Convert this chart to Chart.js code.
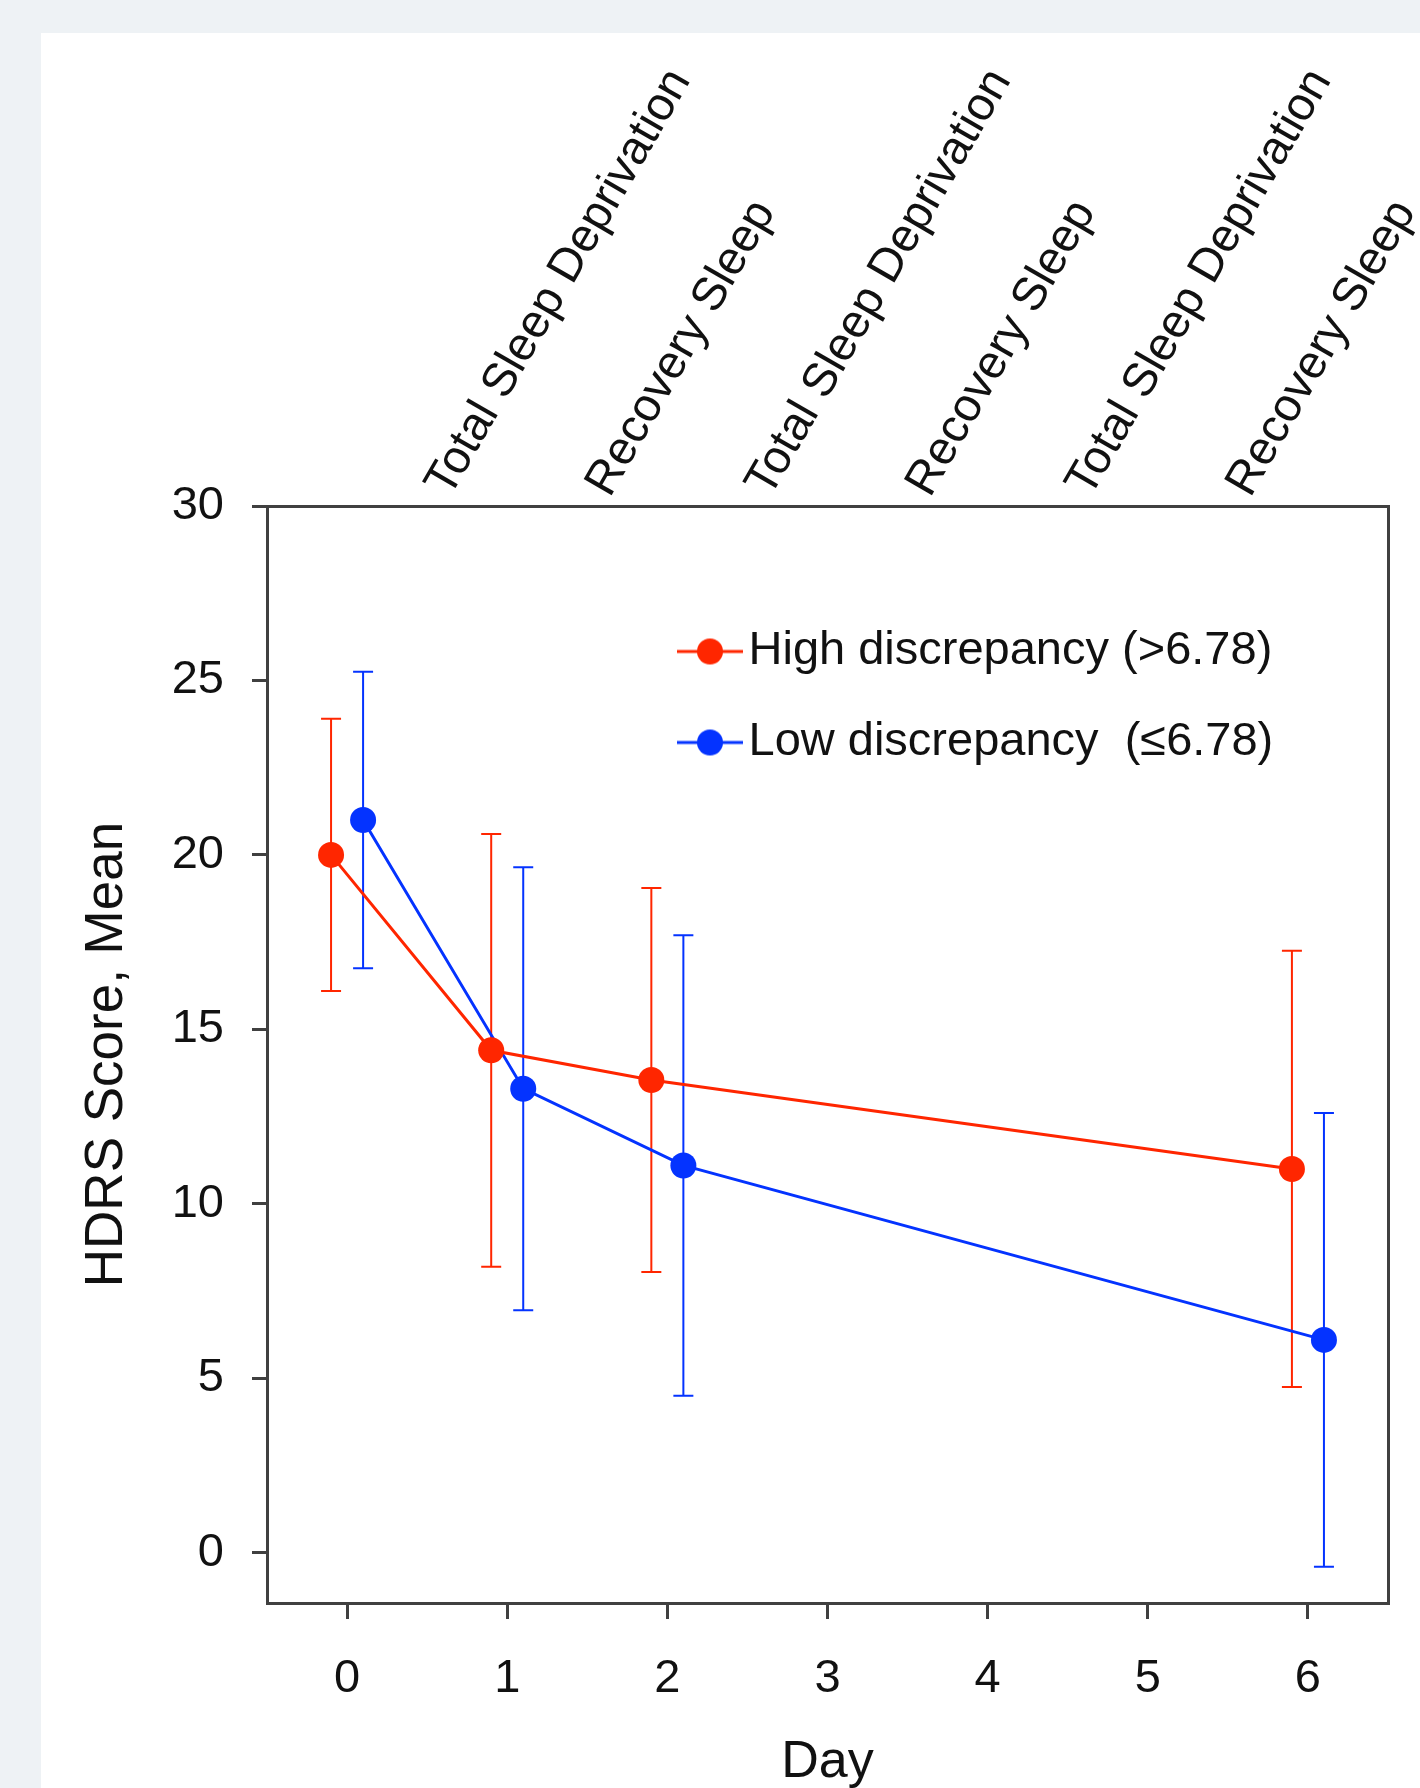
<!DOCTYPE html>
<html>
<head>
<meta charset="utf-8">
<script src="https://cdn.jsdelivr.net/npm/chart.js@4.4.1/dist/chart.umd.min.js"></script>
<style>
  html, body { margin: 0; padding: 0; background: #eef2f5; }
  body { width: 1420px; height: 1788px; position: relative; overflow: hidden; }
  #panel { position: absolute; left: 41px; top: 33px; width: 1379px; height: 1755px; background: #fff; }
</style>
</head>
<body>
<div id="panel"><canvas id="hdrsChart" width="1379" height="1755"></canvas></div>
<script>
// data
const days = [0, 1, 2, 6];
const highMean = [20.0, 14.4, 13.55, 11.0];
const highSD = [3.9, 6.2, 5.5, 6.25];
const lowMean = [21.0, 13.3, 11.1, 6.1];
const lowSD = [4.25, 6.35, 6.6, 6.5];
const seriesLabels = ['High discrepancy (>6.78)', 'Low discrepancy  (\u22646.78)'];

const xTicks = [0, 1, 2, 3, 4, 5, 6];
const yTicks = [0, 5, 10, 15, 20, 25, 30];
const phaseTicks = [0.5, 1.5, 2.5, 3.5, 4.5, 5.5];
const phaseLabels = ['Total Sleep Deprivation', 'Recovery Sleep', 'Total Sleep Deprivation',
    'Recovery Sleep', 'Total Sleep Deprivation', 'Recovery Sleep'];

const red = '#ff2600';
const blue = '#0433ff';
const axisColor = '#404040';
const textColor = '#111';
const dodge = 0.1;

Chart.defaults.font.family = "'Liberation Sans', Arial, Helvetica, sans-serif";
Chart.defaults.color = textColor;

// legend icon: short line with a dot on it
const makeIcon = (color) => {
    const c = document.createElement('canvas');
    c.width = 66;
    c.height = 28;
    const g = c.getContext('2d');
    g.strokeStyle = color;
    g.lineWidth = 3;
    g.beginPath();
    g.moveTo(0, 14);
    g.lineTo(66, 14);
    g.stroke();
    g.fillStyle = color;
    g.beginPath();
    g.arc(33, 14, 13, 0, Math.PI * 2);
    g.fill();
    return c;
}
const icons = [makeIcon(red), makeIcon(blue)];

// mean +/- SD whiskers
const errorBars = {
    id: 'errorBars',
    beforeDatasetsDraw(chart) {
        const { ctx } = chart;
        const x = chart.scales.x;
        const y = chart.scales.y;
        chart.data.datasets.forEach(ds => {
            ctx.save();
            ctx.strokeStyle = ds.borderColor;
            ctx.lineWidth = 2;
            ds.data.forEach((pt, i) => {
                const px = x.getPixelForValue(pt.x);
                const top = y.getPixelForValue(pt.y + ds.errors[i]);
                const bottom = y.getPixelForValue(pt.y - ds.errors[i]);
                ctx.beginPath();
                ctx.moveTo(px, top);
                ctx.lineTo(px, bottom);
                ctx.moveTo(px - 10, top);
                ctx.lineTo(px + 10, top);
                ctx.moveTo(px - 10, bottom);
                ctx.lineTo(px + 10, bottom);
                ctx.stroke();
            });
            ctx.restore();
        });
    }
};

// put the legend inside the plot, upper right
const legendPlace = {
    id: 'legendPlace',
    afterLayout(chart) {
        const lg = chart.legend;
        const ca = chart.chartArea;
        lg.left = ca.left + 384;
        lg.top = ca.top + 78;
        lg.bottom = ca.bottom;
    }
};

const ctx = document.getElementById('hdrsChart');

const data = {
    datasets: [
        {
            label: seriesLabels[0],
            data: days.map((d, i) => ({ x: d - dodge, y: highMean[i] })),
            errors: highSD,
            borderColor: red,
            backgroundColor: red,
            borderWidth: 3,
            pointRadius: 13,
            pointBorderWidth: 0,
            tension: 0
        },
        {
            label: seriesLabels[1],
            data: days.map((d, i) => ({ x: d + dodge, y: lowMean[i] })),
            errors: lowSD,
            borderColor: blue,
            backgroundColor: blue,
            borderWidth: 3,
            pointRadius: 13,
            pointBorderWidth: 0,
            tension: 0
        }
    ]
};

const hdrsChart = new Chart(ctx, {
    type: 'line',
    data: data,
    plugins: [errorBars, legendPlace],
    options: {
        responsive: false,
        animation: false,
        devicePixelRatio: 1,
        layout: { padding: 0 },
        plugins: {
            tooltip: { enabled: false },
            legend: {
                display: true,
                position: 'chartArea',
                align: 'start',
                labels: {
                    usePointStyle: true,
                    pointStyleWidth: 30,
                    padding: 44,
                    color: textColor,
                    font: { size: 47 },
                    generateLabels: (chart) => {
                        const items = Chart.defaults.plugins.legend.labels.generateLabels(chart);
                        items.forEach((it, i) => { it.pointStyle = icons[i]; });
                        return items;
                    }
                }
            }
        },
        scales: {
            x: {
                type: 'linear',
                position: 'bottom',
                min: -0.5,
                max: 6.5,
                afterBuildTicks: axis => { axis.ticks = xTicks.map(v => ({ value: v })); },
                afterFit: axis => { axis.height = 185; },
                grid: { drawOnChartArea: false, tickLength: 16, color: axisColor, lineWidth: 3 },
                border: { color: axisColor, width: 3 },
                ticks: { font: { size: 47 }, color: textColor, padding: 32 },
                title: { display: true, text: 'Day', font: { size: 52 }, color: textColor, padding: { top: 0, bottom: -6 } }
            },
            x2: {
                type: 'linear',
                position: 'top',
                min: -0.5,
                max: 6.5,
                afterBuildTicks: axis => { axis.ticks = phaseTicks.map(v => ({ value: v })); },
                afterFit: axis => { axis.height = 473; },
                grid: { drawOnChartArea: false, drawTicks: false },
                border: { color: axisColor, width: 3 },
                ticks: {
                    font: { size: 47 },
                    color: textColor,
                    padding: 0,
                    labelOffset: 60,
                    minRotation: 60,
                    maxRotation: 60,
                    autoSkip: false,
                    callback: (v, i) => phaseLabels[i]
                }
            },
            y: {
                type: 'linear',
                position: 'left',
                min: -1.44,
                max: 30,
                afterBuildTicks: axis => { axis.ticks = yTicks.map(v => ({ value: v })); },
                afterFit: axis => { axis.width = 226; },
                grid: { drawOnChartArea: false, tickLength: 15, color: axisColor, lineWidth: 3 },
                border: { color: axisColor, width: 3 },
                ticks: { font: { size: 47 }, color: textColor, padding: 28 },
                title: { display: true, text: 'HDRS Score, Mean', font: { size: 53 }, color: textColor, padding: { top: 35, bottom: 0 } }
            },
            y2: {
                type: 'linear',
                position: 'right',
                min: -1.44,
                max: 30,
                afterFit: axis => { axis.width = 32; },
                grid: { drawOnChartArea: false, drawTicks: false },
                border: { color: axisColor, width: 3 },
                ticks: { display: false }
            }
        }
    }
});
</script>
</body>
</html>
